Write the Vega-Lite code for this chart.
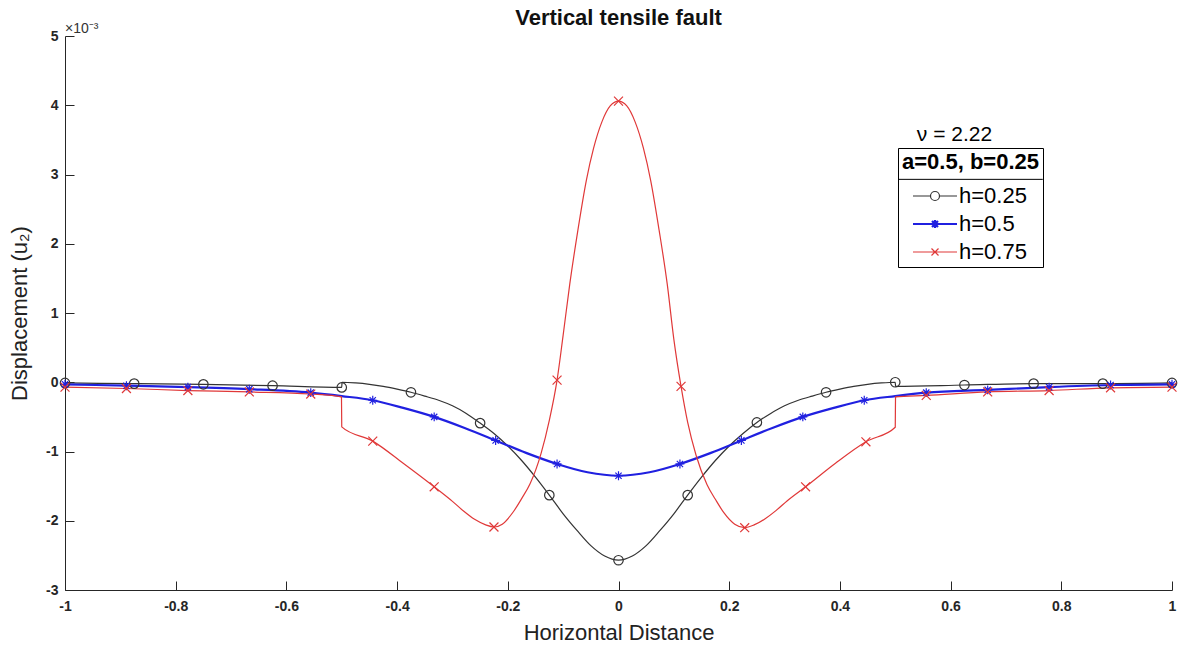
{
  "$schema": "https://vega.github.io/schema/vega-lite/v6.json",
  "width": 1107,
  "height": 554,
  "autosize": {"type": "none"},
  "padding": {"left": 65, "top": 36, "right": 11, "bottom": 56},
  "background": "white",
  "title": {"text": "Vertical tensile fault", "fontSize": 22, "font": "Liberation Sans", "fontWeight": "bold", "color": "#111111", "anchor": "middle", "offset": -8},
  "config": {
    "view": {"stroke": null},
    "font": "Liberation Sans",
    "axis": {
      "grid": false,
      "domainColor": "#262626",
      "tickColor": "#262626",
      "labelColor": "#262626",
      "labelFont": "Liberation Sans",
      "labelFontSize": 14,
      "labelFontWeight": "bold",
      "labelFlush": false,
      "labelOverlap": false,
      "tickSize": -9,
      "titleFont": "Liberation Sans",
      "titleFontSize": 22,
      "titleFontWeight": "normal",
      "titleColor": "#222222"
    }
  },
  "datasets": {
    "curves": [
      {"s": "h=0.25", "x": -1, "y": -0.01, "m": 1},
      {"s": "h=0.25", "x": -0.875, "y": -0.02, "m": 1},
      {"s": "h=0.25", "x": -0.75, "y": -0.03, "m": 1},
      {"s": "h=0.25", "x": -0.625, "y": -0.05, "m": 1},
      {"s": "h=0.25", "x": -0.5, "y": -0.075, "m": 1},
      {"s": "h=0.25", "x": -0.4995, "y": 0.0, "m": 0},
      {"s": "h=0.25", "x": -0.475, "y": -0.01, "m": 0},
      {"s": "h=0.25", "x": -0.45, "y": -0.03, "m": 0},
      {"s": "h=0.25", "x": -0.425, "y": -0.06, "m": 0},
      {"s": "h=0.25", "x": -0.4, "y": -0.1, "m": 0},
      {"s": "h=0.25", "x": -0.375, "y": -0.145, "m": 1},
      {"s": "h=0.25", "x": -0.35, "y": -0.2, "m": 0},
      {"s": "h=0.25", "x": -0.325, "y": -0.26, "m": 0},
      {"s": "h=0.25", "x": -0.3, "y": -0.34, "m": 0},
      {"s": "h=0.25", "x": -0.275, "y": -0.45, "m": 0},
      {"s": "h=0.25", "x": -0.25, "y": -0.59, "m": 1},
      {"s": "h=0.25", "x": -0.225, "y": -0.74, "m": 0},
      {"s": "h=0.25", "x": -0.2, "y": -0.92, "m": 0},
      {"s": "h=0.25", "x": -0.175, "y": -1.13, "m": 0},
      {"s": "h=0.25", "x": -0.15, "y": -1.37, "m": 0},
      {"s": "h=0.25", "x": -0.125, "y": -1.63, "m": 1},
      {"s": "h=0.25", "x": -0.1, "y": -1.9, "m": 0},
      {"s": "h=0.25", "x": -0.075, "y": -2.14, "m": 0},
      {"s": "h=0.25", "x": -0.05, "y": -2.36, "m": 0},
      {"s": "h=0.25", "x": -0.025, "y": -2.51, "m": 0},
      {"s": "h=0.25", "x": 0, "y": -2.57, "m": 1},
      {"s": "h=0.25", "x": 0.025, "y": -2.51, "m": 0},
      {"s": "h=0.25", "x": 0.05, "y": -2.36, "m": 0},
      {"s": "h=0.25", "x": 0.075, "y": -2.14, "m": 0},
      {"s": "h=0.25", "x": 0.1, "y": -1.9, "m": 0},
      {"s": "h=0.25", "x": 0.125, "y": -1.63, "m": 1},
      {"s": "h=0.25", "x": 0.15, "y": -1.37, "m": 0},
      {"s": "h=0.25", "x": 0.175, "y": -1.13, "m": 0},
      {"s": "h=0.25", "x": 0.2, "y": -0.92, "m": 0},
      {"s": "h=0.25", "x": 0.225, "y": -0.74, "m": 0},
      {"s": "h=0.25", "x": 0.25, "y": -0.58, "m": 1},
      {"s": "h=0.25", "x": 0.275, "y": -0.45, "m": 0},
      {"s": "h=0.25", "x": 0.3, "y": -0.34, "m": 0},
      {"s": "h=0.25", "x": 0.325, "y": -0.26, "m": 0},
      {"s": "h=0.25", "x": 0.35, "y": -0.2, "m": 0},
      {"s": "h=0.25", "x": 0.375, "y": -0.145, "m": 1},
      {"s": "h=0.25", "x": 0.4, "y": -0.1, "m": 0},
      {"s": "h=0.25", "x": 0.425, "y": -0.06, "m": 0},
      {"s": "h=0.25", "x": 0.45, "y": -0.03, "m": 0},
      {"s": "h=0.25", "x": 0.475, "y": -0.01, "m": 0},
      {"s": "h=0.25", "x": 0.5, "y": 0.0, "m": 1},
      {"s": "h=0.25", "x": 0.5005, "y": -0.06, "m": 0},
      {"s": "h=0.25", "x": 0.625, "y": -0.04, "m": 1},
      {"s": "h=0.25", "x": 0.75, "y": -0.02, "m": 1},
      {"s": "h=0.25", "x": 0.875, "y": -0.02, "m": 1},
      {"s": "h=0.25", "x": 1, "y": -0.01, "m": 1},

      {"s": "h=0.5", "x": -1, "y": -0.03, "m": 1},
      {"s": "h=0.5", "x": -0.889, "y": -0.05, "m": 1},
      {"s": "h=0.5", "x": -0.778, "y": -0.07, "m": 1},
      {"s": "h=0.5", "x": -0.667, "y": -0.1, "m": 1},
      {"s": "h=0.5", "x": -0.556, "y": -0.15, "m": 1},
      {"s": "h=0.5", "x": -0.5, "y": -0.2, "m": 0},
      {"s": "h=0.5", "x": -0.444, "y": -0.26, "m": 1},
      {"s": "h=0.5", "x": -0.389, "y": -0.37, "m": 0},
      {"s": "h=0.5", "x": -0.333, "y": -0.5, "m": 1},
      {"s": "h=0.5", "x": -0.278, "y": -0.66, "m": 0},
      {"s": "h=0.5", "x": -0.222, "y": -0.84, "m": 1},
      {"s": "h=0.5", "x": -0.167, "y": -1.02, "m": 0},
      {"s": "h=0.5", "x": -0.111, "y": -1.18, "m": 1},
      {"s": "h=0.5", "x": -0.056, "y": -1.3, "m": 0},
      {"s": "h=0.5", "x": 0, "y": -1.35, "m": 1},
      {"s": "h=0.5", "x": 0.056, "y": -1.3, "m": 0},
      {"s": "h=0.5", "x": 0.111, "y": -1.18, "m": 1},
      {"s": "h=0.5", "x": 0.167, "y": -1.02, "m": 0},
      {"s": "h=0.5", "x": 0.222, "y": -0.84, "m": 1},
      {"s": "h=0.5", "x": 0.278, "y": -0.66, "m": 0},
      {"s": "h=0.5", "x": 0.333, "y": -0.5, "m": 1},
      {"s": "h=0.5", "x": 0.389, "y": -0.37, "m": 0},
      {"s": "h=0.5", "x": 0.444, "y": -0.26, "m": 1},
      {"s": "h=0.5", "x": 0.5, "y": -0.2, "m": 0},
      {"s": "h=0.5", "x": 0.556, "y": -0.15, "m": 1},
      {"s": "h=0.5", "x": 0.667, "y": -0.11, "m": 1},
      {"s": "h=0.5", "x": 0.778, "y": -0.07, "m": 1},
      {"s": "h=0.5", "x": 0.889, "y": -0.04, "m": 1},
      {"s": "h=0.5", "x": 1, "y": -0.03, "m": 1},

      {"s": "h=0.75", "x": -1, "y": -0.07, "m": 1},
      {"s": "h=0.75", "x": -0.889, "y": -0.09, "m": 1},
      {"s": "h=0.75", "x": -0.778, "y": -0.12, "m": 1},
      {"s": "h=0.75", "x": -0.667, "y": -0.14, "m": 1},
      {"s": "h=0.75", "x": -0.556, "y": -0.17, "m": 1},
      {"s": "h=0.75", "x": -0.5005, "y": -0.21, "m": 0},
      {"s": "h=0.75", "x": -0.5, "y": -0.645, "m": 0},
      {"s": "h=0.75", "x": -0.444, "y": -0.85, "m": 1},
      {"s": "h=0.75", "x": -0.389, "y": -1.17, "m": 0},
      {"s": "h=0.75", "x": -0.333, "y": -1.51, "m": 1},
      {"s": "h=0.75", "x": -0.3, "y": -1.72, "m": 0},
      {"s": "h=0.75", "x": -0.28, "y": -1.86, "m": 0},
      {"s": "h=0.75", "x": -0.26, "y": -1.98, "m": 0},
      {"s": "h=0.75", "x": -0.24, "y": -2.06, "m": 0},
      {"s": "h=0.75", "x": -0.225, "y": -2.09, "m": 1},
      {"s": "h=0.75", "x": -0.21, "y": -2.05, "m": 0},
      {"s": "h=0.75", "x": -0.19, "y": -1.87, "m": 0},
      {"s": "h=0.75", "x": -0.175, "y": -1.68, "m": 0},
      {"s": "h=0.75", "x": -0.16, "y": -1.47, "m": 0},
      {"s": "h=0.75", "x": -0.14, "y": -1.03, "m": 0},
      {"s": "h=0.75", "x": -0.125, "y": -0.55, "m": 0},
      {"s": "h=0.75", "x": -0.111, "y": 0.03, "m": 1},
      {"s": "h=0.75", "x": -0.1, "y": 0.68, "m": 0},
      {"s": "h=0.75", "x": -0.088, "y": 1.42, "m": 0},
      {"s": "h=0.75", "x": -0.0735, "y": 2.19, "m": 0},
      {"s": "h=0.75", "x": -0.058, "y": 2.92, "m": 0},
      {"s": "h=0.75", "x": -0.045, "y": 3.38, "m": 0},
      {"s": "h=0.75", "x": -0.03, "y": 3.76, "m": 0},
      {"s": "h=0.75", "x": -0.015, "y": 3.99, "m": 0},
      {"s": "h=0.75", "x": 0, "y": 4.06, "m": 1},
      {"s": "h=0.75", "x": 0.015, "y": 3.99, "m": 0},
      {"s": "h=0.75", "x": 0.03, "y": 3.76, "m": 0},
      {"s": "h=0.75", "x": 0.045, "y": 3.38, "m": 0},
      {"s": "h=0.75", "x": 0.058, "y": 2.92, "m": 0},
      {"s": "h=0.75", "x": 0.0735, "y": 2.19, "m": 0},
      {"s": "h=0.75", "x": 0.088, "y": 1.42, "m": 0},
      {"s": "h=0.75", "x": 0.1, "y": 0.62, "m": 0},
      {"s": "h=0.75", "x": 0.113, "y": -0.06, "m": 1},
      {"s": "h=0.75", "x": 0.125, "y": -0.58, "m": 0},
      {"s": "h=0.75", "x": 0.14, "y": -1.05, "m": 0},
      {"s": "h=0.75", "x": 0.16, "y": -1.48, "m": 0},
      {"s": "h=0.75", "x": 0.175, "y": -1.69, "m": 0},
      {"s": "h=0.75", "x": 0.19, "y": -1.88, "m": 0},
      {"s": "h=0.75", "x": 0.21, "y": -2.05, "m": 0},
      {"s": "h=0.75", "x": 0.228, "y": -2.1, "m": 1},
      {"s": "h=0.75", "x": 0.245, "y": -2.06, "m": 0},
      {"s": "h=0.75", "x": 0.265, "y": -1.97, "m": 0},
      {"s": "h=0.75", "x": 0.285, "y": -1.85, "m": 0},
      {"s": "h=0.75", "x": 0.305, "y": -1.71, "m": 0},
      {"s": "h=0.75", "x": 0.338, "y": -1.51, "m": 1},
      {"s": "h=0.75", "x": 0.392, "y": -1.17, "m": 0},
      {"s": "h=0.75", "x": 0.447, "y": -0.86, "m": 1},
      {"s": "h=0.75", "x": 0.5, "y": -0.65, "m": 0},
      {"s": "h=0.75", "x": 0.5005, "y": -0.21, "m": 0},
      {"s": "h=0.75", "x": 0.556, "y": -0.19, "m": 1},
      {"s": "h=0.75", "x": 0.667, "y": -0.14, "m": 1},
      {"s": "h=0.75", "x": 0.778, "y": -0.12, "m": 1},
      {"s": "h=0.75", "x": 0.889, "y": -0.08, "m": 1},
      {"s": "h=0.75", "x": 1, "y": -0.07, "m": 1}
    ]
  },
  "layer": [
    {
      "data": {"name": "curves"},
      "mark": {"type": "line", "interpolate": "monotone"},
      "encoding": {
        "x": {
          "field": "x", "type": "quantitative",
          "scale": {"domain": [-1, 1], "nice": false, "zero": false},
          "axis": {
            "title": "Horizontal Distance",
            "values": [-1, -0.8, -0.6, -0.4, -0.2, 0, 0.2, 0.4, 0.6, 0.8, 1],
            "labelExpr": "replace(format(datum.value, '~g'), '\u2212', '-')",
            "labelPadding": 18,
            "titlePadding": 9
          }
        },
        "y": {
          "field": "y", "type": "quantitative",
          "scale": {"domain": [-3, 5], "nice": false, "zero": false},
          "axis": {
            "title": "Displacement (u\u2082)",
            "values": [-3, -2, -1, 0, 1, 2, 3, 4, 5],
            "labelExpr": "replace(format(datum.value, '~g'), '\u2212', '-')",
            "labelPadding": 16,
            "titlePadding": 14
          }
        },
        "color": {
          "field": "s", "type": "nominal",
          "scale": {"domain": ["h=0.25", "h=0.5", "h=0.75"], "range": ["#333333", "#2020e0", "#e03838"]},
          "legend": {
            "orient": "none",
            "legendX": 833,
            "legendY": 112,
            "title": "a=0.5, b=0.25",
            "titleFont": "Liberation Sans",
            "titleFontSize": 22,
            "titleFontWeight": "bold",
            "titleColor": "#000000",
            "titlePadding": 11,
            "labelFont": "Liberation Sans",
            "labelFontSize": 22,
            "labelColor": "#000000",
            "symbolSize": 100,
            "symbolStrokeWidth": 1.2,
            "symbolFillColor": "transparent",
            "symbolOffset": 22,
            "labelOffset": 13,
            "rowPadding": 6,
            "padding": 4,
            "strokeColor": "#000000",
            "encode": {
              "symbols": {
                "update": {
                  "shape": {"signal": "datum.value === 'h=0.25' ? 'M-4.4,0L-0.9,0M0.9,0L4.4,0M0.9,0A0.9,0.9,0,1,1,-0.9,0A0.9,0.9,0,1,1,0.9,0' : datum.value === 'h=0.5' ? 'M-4.4,0L4.4,0M0,-0.8L0,0.8M-0.6,-0.6L0.6,0.6M-0.6,0.6L0.6,-0.6' : 'M-4.4,0L4.4,0M-0.7,-0.7L0.7,0.7M-0.7,0.7L0.7,-0.7'"},
                  "fill": {"value": "transparent"}
                }
              }
            }
          }
        },
        "strokeWidth": {
          "field": "s", "type": "nominal",
          "scale": {"type": "ordinal", "domain": ["h=0.25", "h=0.5", "h=0.75"], "range": [1.2, 2.2, 1.2]},
          "legend": null
        }
      }
    },
    {
      "data": {"name": "curves"},
      "transform": [{"filter": "datum.m == 1 && datum.s == 'h=0.25'"}],
      "mark": {"type": "point", "filled": false, "size": 90, "strokeWidth": 1.2, "opacity": 1, "shape": "circle", "color": "#333333"},
      "encoding": {
        "x": {"field": "x", "type": "quantitative"},
        "y": {"field": "y", "type": "quantitative"}
      }
    },
    {
      "data": {"name": "curves"},
      "transform": [{"filter": "datum.m == 1 && datum.s == 'h=0.5'"}],
      "mark": {"type": "point", "filled": false, "size": 80, "strokeWidth": 1.2, "opacity": 1, "shape": "M-1,0L1,0M0,-1L0,1M-0.7,-0.7L0.7,0.7M-0.7,0.7L0.7,-0.7", "color": "#2020e0"},
      "encoding": {
        "x": {"field": "x", "type": "quantitative"},
        "y": {"field": "y", "type": "quantitative"}
      }
    },
    {
      "data": {"name": "curves"},
      "transform": [{"filter": "datum.m == 1 && datum.s == 'h=0.75'"}],
      "mark": {"type": "point", "filled": false, "size": 80, "strokeWidth": 1.2, "opacity": 1, "shape": "M-1,-1L1,1M-1,1L1,-1", "color": "#e03838"},
      "encoding": {
        "x": {"field": "x", "type": "quantitative"},
        "y": {"field": "y", "type": "quantitative"}
      }
    },
    {
      "data": {"values": [{}]},
      "mark": {"type": "text", "font": "Liberation Sans", "fontSize": 21, "color": "#000000", "align": "center", "baseline": "middle"},
      "encoding": {
        "x": {"datum": 0.607},
        "y": {"datum": 3.57},
        "text": {"value": "\u03bd = 2.22"}
      }
    },
    {
      "data": {"values": [{}]},
      "mark": {"type": "text", "font": "Liberation Sans", "fontSize": 14, "color": "#333333", "align": "left", "baseline": "alphabetic", "dy": -3},
      "encoding": {
        "x": {"datum": -1},
        "y": {"datum": 5},
        "text": {"value": "\u00d710\u207b\u00b3"}
      }
    },
    {
      "data": {"values": [{}]},
      "mark": {"type": "rule", "color": "#000000", "strokeWidth": 1},
      "encoding": {
        "x": {"datum": 0.5055},
        "x2": {"datum": 0.7665},
        "y": {"datum": 2.93}
      }
    }
  ]
}
